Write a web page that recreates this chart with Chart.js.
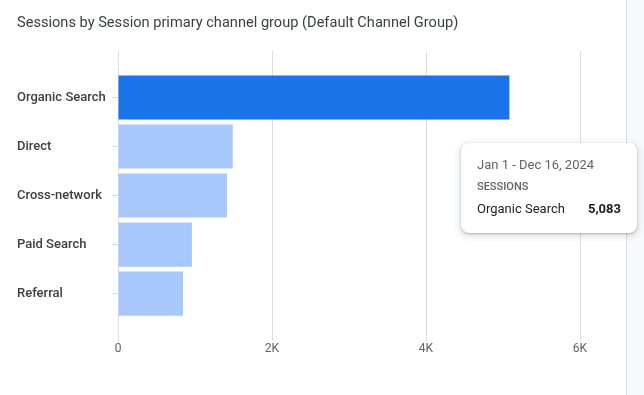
<!DOCTYPE html>
<html lang="en">
<head>
    <meta charset="UTF-8">
    <title>Sessions by channel group</title>
    <script src="https://cdn.jsdelivr.net/npm/chart.js@4.4.1/dist/chart.umd.min.js"></script>
    <style>
        body { margin: 0; background: #f8f9fa; font-family: Roboto, "Noto Sans", sans-serif; }
        #panel { position: absolute; left: 0; top: 0; width: 626px; height: 395px; background: #fff; border-right: 1px solid #dadce0; }
        #tip {
            position: absolute; left: 461px; top: 143px; width: 176px; height: 90px;
            box-sizing: border-box; padding: 13px 16px 0 16px;
            background: #fff; border-radius: 8px; z-index: 5;
            box-shadow: 0 1px 2px rgba(60,64,67,0.3), 0 2px 6px 2px rgba(60,64,67,0.15);
        }
        #tip .range { font-size: 13px; color: #5f6368; line-height: 18px; }
        #tip .metric { font-size: 11px; color: #5f6368; font-weight: 500; line-height: 14px; margin-top: 6px; }
        #tip .row { display: flex; justify-content: space-between; font-size: 13px; color: #202124; line-height: 18px; margin-top: 6px; }
        #tip .row b { font-weight: 700; }
    </style>
</head>
<body>
    <div id="panel">
        <canvas id="chart" width="626" height="395"></canvas>
    </div>
    <div id="tip"></div>
    <script>
        // values
        var channels = ['Organic Search', 'Direct', 'Cross-network', 'Paid Search', 'Referral'];
        var sessions = [5083, 1490, 1415, 960, 845];
        var xTicks = [0, 2000, 4000, 6000];
        var dateRange = 'Jan 1 - Dec 16, 2024';
        var metricName = 'Sessions';

        var barColors = channels.map(function (c, i) { return i === 0 ? '#1a73e8' : '#a8c7fa'; });
        var gridColor = '#dadce0';

        function kLabel(v) {
            return v === 0 ? '0' : (v / 1000) + 'K';
        }

        new Chart(document.getElementById('chart'), {
            type: 'bar',
            data: {
                labels: channels,
                datasets: [{
                    label: metricName,
                    data: sessions,
                    backgroundColor: barColors,
                    barPercentage: 0.9,
                    categoryPercentage: 1.0,
                    xAxisID: 'x'
                }]
            },
            options: {
                indexAxis: 'y',
                responsive: false,
                animation: false,
                events: [],
                layout: { padding: { left: 17, right: 46, top: 0, bottom: 39 } },
                plugins: {
                    legend: { display: false },
                    tooltip: { enabled: false },
                    title: {
                        display: true,
                        text: 'Sessions by Session primary channel group (Default Channel Group)',
                        align: 'start',
                        color: '#3c4043',
                        font: { family: 'Roboto', size: 14.6, weight: 'normal' },
                        padding: { top: 15, bottom: 18.5 }
                    }
                },
                scales: {
                    x: {
                        position: 'bottom',
                        min: 0, max: 6000,
                        afterBuildTicks: function (s) { s.ticks = xTicks.map(function (v) { return { value: v }; }); },
                        border: { display: false },
                        grid: { color: gridColor, tickLength: 23.5, tickColor: gridColor },
                        ticks: {
                            padding: 0,
                            color: '#5f6368',
                            font: { family: 'Roboto', size: 12 },
                            callback: function (v) { return kLabel(v); }
                        }
                    },
                    xTop: {
                        position: 'top',
                        min: 0, max: 6000,
                        afterBuildTicks: function (s) { s.ticks = xTicks.map(function (v) { return { value: v }; }); },
                        border: { display: false },
                        grid: { color: gridColor, tickLength: 22, tickColor: gridColor, drawOnChartArea: false },
                        ticks: { display: false }
                    },
                    y: {
                        border: { display: false },
                        grid: { drawOnChartArea: false, offset: false, tickLength: 6, color: gridColor },
                        afterFit: function (s) { s.width = 101; },
                        ticks: {
                            crossAlign: 'far',
                            color: '#3c4043',
                            font: { family: 'Roboto', size: 13, weight: '500' }
                        }
                    }
                }
            }
        });

        document.getElementById('tip').innerHTML =
            '<div class="range">' + dateRange + '</div>' +
            '<div class="metric">' + metricName.toUpperCase() + '</div>' +
            '<div class="row"><span>' + channels[0] + '</span><b>' + sessions[0].toLocaleString('en-US') + '</b></div>';
    </script>
</body>
</html>
